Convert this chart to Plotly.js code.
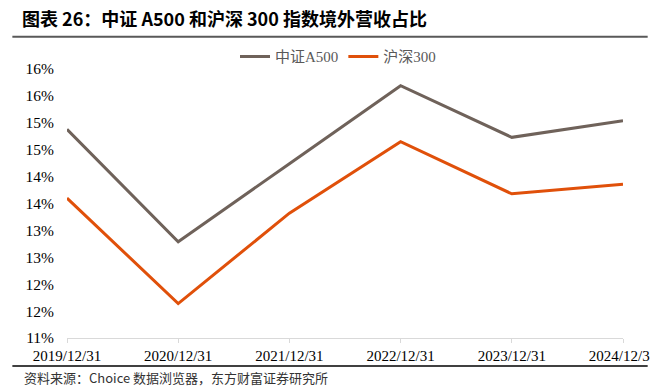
<!DOCTYPE html>
<html>
<head>
<meta charset="utf-8">
<script src="https://cdn.plot.ly/plotly-3.0.1.min.js"></script>
<style>
  html, body { margin: 0; padding: 0; background: #fff; }
  #chart { width: 650px; height: 389px; }
</style>
</head>
<body>
<div id="chart"></div>
<script>
const categories = ['2019/12/31', '2020/12/31', '2021/12/31', '2022/12/31', '2023/12/31', '2024/12/31'];
const seriesA500 = [14.88, 12.79, 14.24, 15.69, 14.73, 15.04];
const seriesHS300 = [13.60, 11.64, 13.32, 14.65, 13.68, 13.86];
const yTickValues = [11, 11.5, 12, 12.5, 13, 13.5, 14, 14.5, 15, 15.5, 16];
const yTickLabels = ['11%', '12%', '12%', '13%', '13%', '14%', '14%', '15%', '15%', '16%', '16%'];
const seriesNames = ['中证A500', '沪深300'];
const titleText = '图表 26：中证 A500 和沪深 300 指数境外营收占比';
const sourceText = '资料来源：Choice 数据浏览器，东方财富证券研究所';

const W = 650, H = 389;
const L = 66.7, R = 26.7, T = 69.3, B = 51;
const pw = W - L - R, ph = H - T - B;
const px = x => (x - L) / pw;
const py = y => (H - B - y) / ph;

const traces = [
  { x: categories, y: seriesA500, name: seriesNames[0], type: 'scatter', mode: 'lines',
    line: { color: '#6F625A', width: 3 } },
  { x: categories, y: seriesHS300, name: seriesNames[1], type: 'scatter', mode: 'lines',
    line: { color: '#E0500A', width: 3 } }
];

const layout = {
  width: W, height: H,
  margin: { l: L, r: R, t: T, b: B, pad: 0 },
  paper_bgcolor: '#fff', plot_bgcolor: '#fff',
  showlegend: true,
  legend: {
    orientation: 'h', x: px(338), xanchor: 'center', y: py(57), yanchor: 'middle',
    font: { family: '"Liberation Serif", "Noto Sans CJK SC", serif', size: 15, color: '#595959' },
    bgcolor: 'rgba(0,0,0,0)'
  },
  title: {
    text: '<b>' + titleText + '</b>',
    xref: 'container', yref: 'container',
    x: 22 / W, xanchor: 'left', y: 1 - 20 / H, yanchor: 'middle',
    font: { family: '"Noto Sans CJK SC", "Liberation Sans", sans-serif', size: 18, color: '#000' }
  },
  xaxis: {
    type: 'category', range: [0, 5], fixedrange: true,
    showline: true, linecolor: '#D9D9D9', linewidth: 1,
    ticks: 'outside', ticklen: 4, tickcolor: '#D9D9D9',
    showgrid: false, zeroline: false,
    tickfont: { family: '"Liberation Serif", serif', size: 15, color: '#000' }
  },
  yaxis: {
    range: [11, 16], fixedrange: true,
    tickvals: yTickValues, ticktext: yTickLabels,
    showline: false, showgrid: false, zeroline: false, ticks: '',
    ticklabelstandoff: 12,
    tickfont: { family: '"Liberation Serif", serif', size: 15.5, color: '#000' }
  },
  shapes: [
    { type: 'line', xref: 'paper', yref: 'paper', x0: px(12), x1: px(648), y0: py(37), y1: py(37),
      line: { color: '#595959', width: 2 } },
    { type: 'line', xref: 'paper', yref: 'paper', x0: px(12), x1: px(648), y0: py(366), y1: py(366),
      line: { color: '#000', width: 1.5 } }
  ],
  annotations: [
    { text: sourceText, xref: 'paper', yref: 'paper', x: px(22), y: py(377),
      xanchor: 'left', yanchor: 'middle', showarrow: false,
      font: { family: '"Noto Sans CJK SC", "Liberation Sans", sans-serif', size: 13, color: '#333' } }
  ]
};

Plotly.newPlot('chart', traces, layout, { displayModeBar: false, staticPlot: true });
</script>
</body>
</html>
